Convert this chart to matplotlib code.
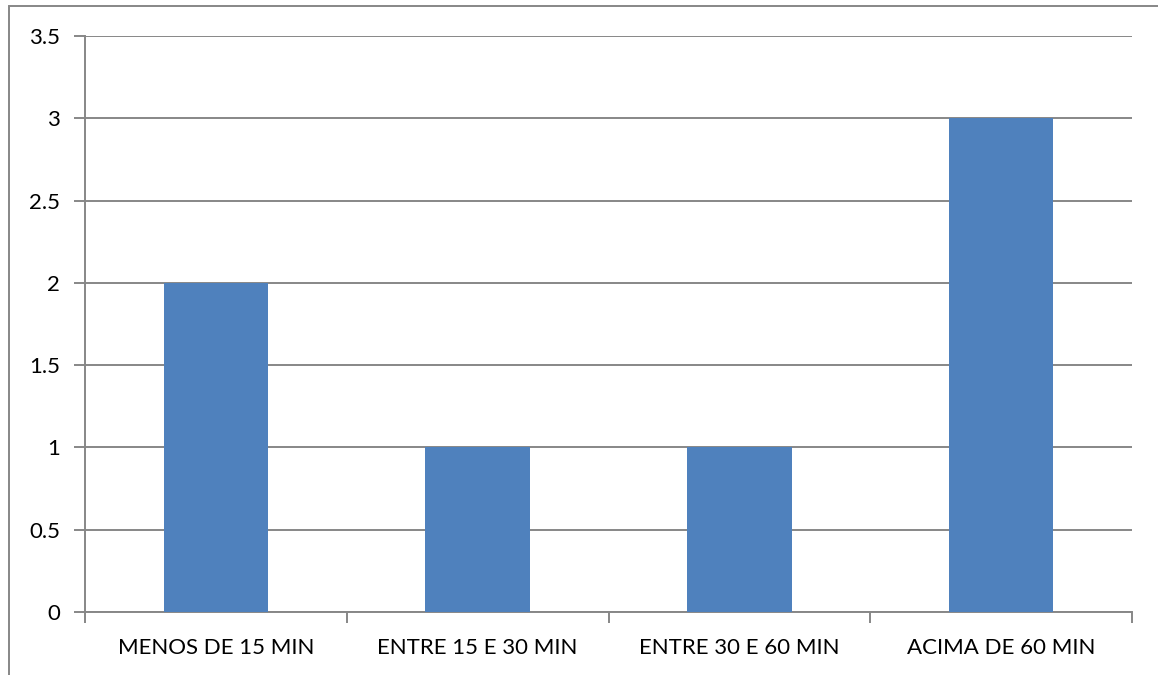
import matplotlib.pyplot as plt
from matplotlib.patches import Rectangle

categories = ["MENOS DE 15 MIN", "ENTRE 15 E 30 MIN", "ENTRE 30 E 60 MIN", "ACIMA DE 60 MIN"]
values = [2, 1, 1, 3]
y_ticks = [0, 0.5, 1, 1.5, 2, 2.5, 3, 3.5]
y_labels = ["0", "0.5", "1", "1.5", "2", "2.5", "3", "3.5"]

plt.rcParams['font.family'] = ['Lato', 'DejaVu Sans']

fig = plt.figure(figsize=(11.58, 6.75), dpi=100)
ax = fig.add_axes([85 / 1158, 1 - 612 / 675, (1132 - 85) / 1158, (612 - 36) / 675])

grid_color = "#878787"
x = list(range(len(categories)))
ax.bar(x, values, width=0.4, color="#4F81BD", zorder=3)

ax.set_xlim(-0.5, len(categories) - 0.5)
ax.set_ylim(0, 3.5)
ax.set_yticks(y_ticks)
ax.set_yticklabels(y_labels, fontsize=16)
ax.yaxis.grid(True, color=grid_color, linewidth=1.4, zorder=0)

# category ticks sit between the bars, labels under the bars
ax.set_xticks([i - 0.5 for i in range(len(categories) + 1)])
ax.set_xticklabels([])
ax.set_xticks(x, minor=True)
ax.set_xticklabels(categories, minor=True, fontsize=16)
ax.tick_params(axis="x", which="minor", length=0, pad=19)
ax.tick_params(axis="x", which="major", length=8, color=grid_color, width=1.4)
ax.tick_params(axis="y", length=8, color=grid_color, width=1.4, pad=10)

for side in ["top", "right"]:
    ax.spines[side].set_visible(False)
for side in ["left", "bottom"]:
    ax.spines[side].set_color(grid_color)
    ax.spines[side].set_linewidth(1.4)

# outer frame of the chart area, running off the right and bottom edges
fig.add_artist(Rectangle((9 / 1158, -0.05), 1.1, 1 - 6 / 675 + 0.05,
                         transform=fig.transFigure, fill=False,
                         edgecolor=grid_color, linewidth=1.4))

fig.savefig("out.png", dpi=100)
